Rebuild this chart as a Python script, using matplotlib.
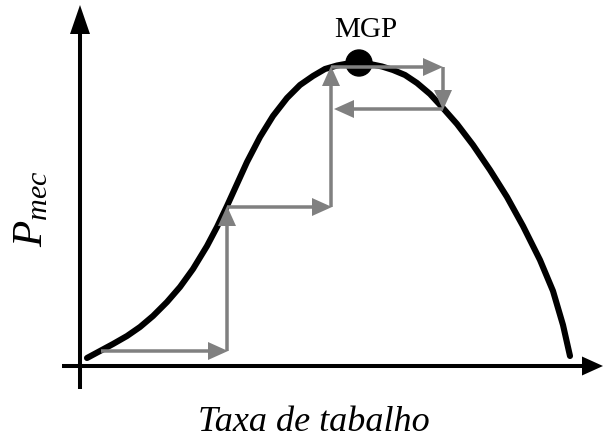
import matplotlib
matplotlib.use('Agg')
import matplotlib.pyplot as plt
from matplotlib.patches import Circle

plt.rcParams['mathtext.fontset'] = 'custom'
plt.rcParams['mathtext.it'] = 'Liberation Serif:italic'
plt.rcParams['mathtext.rm'] = 'Liberation Serif'

# power curve (pixel-like units, y grows downward)
curve_x = [87, 100, 113, 127, 140, 153, 167, 180, 193, 207, 217, 227, 237, 247,
           260, 273, 287, 300, 313, 325, 337, 348, 358, 370, 382, 393, 405, 417,
           430, 442, 457, 473, 490, 507, 523, 540, 553, 563, 570]
curve_y = [359, 352, 345, 337, 328, 317, 303, 288, 270, 247, 228, 207, 185, 163,
           138, 117, 99, 86, 77, 70, 66.5, 64.5, 64, 65, 67.5, 71, 76, 84,
           95, 108, 125, 146, 171, 198, 227, 261, 292, 326, 357]

# hill-climbing steps (start -> end)
step_x0 = [101, 227, 227, 331, 331, 443, 443]
step_y0 = [352, 352, 208, 208, 68, 68, 110]
step_x1 = [228, 227, 332, 331, 443, 443, 334]
step_y1 = [352, 207, 208, 67, 68, 111, 110]

mgp_x, mgp_y = 359, 64

fig = plt.figure(figsize=(6.03, 4.39), dpi=100)
ax = fig.add_axes([0, 0, 1, 1])
ax.set_xlim(0, 603)
ax.set_ylim(439, 0)
ax.axis('off')

# axes with arrow heads
ax.plot([80, 80], [390, 34], color='black', lw=2.9, solid_capstyle='butt')
ax.arrow(80, 36, 0, -30, width=0.1, head_width=20, head_length=29,
         length_includes_head=True, color='black', lw=0)
ax.plot([62, 585], [367, 367], color='black', lw=2.9, solid_capstyle='butt')
ax.arrow(582, 367, 21, 0, width=0.1, head_width=19, head_length=21,
         length_includes_head=True, color='black', lw=0)

# curve
ax.plot(curve_x, curve_y, color='black', lw=4.4, solid_capstyle='round',
        solid_joinstyle='round', zorder=3)

# gray arrows
for x0, y0, x1, y1 in zip(step_x0, step_y0, step_x1, step_y1):
    ax.arrow(x0, y0, x1 - x0, y1 - y0, width=3.5, head_width=18, head_length=20,
             length_includes_head=True, color='#808080', lw=0, zorder=4)

ax.add_patch(Circle((mgp_x, mgp_y), 13, color='black', zorder=2))

ax.text(366, 37, 'MGP', fontsize=21, family='Liberation Serif',
        ha='center', va='baseline')
ax.text(314, 431, 'Taxa de tabalho', fontsize=26, family='Liberation Serif',
        style='italic', ha='center', va='baseline')
ax.text(30, 209, r'$P_{mec}$', fontsize=31, rotation=90,
        ha='center', va='center')

fig.savefig('out.png', dpi=100)
